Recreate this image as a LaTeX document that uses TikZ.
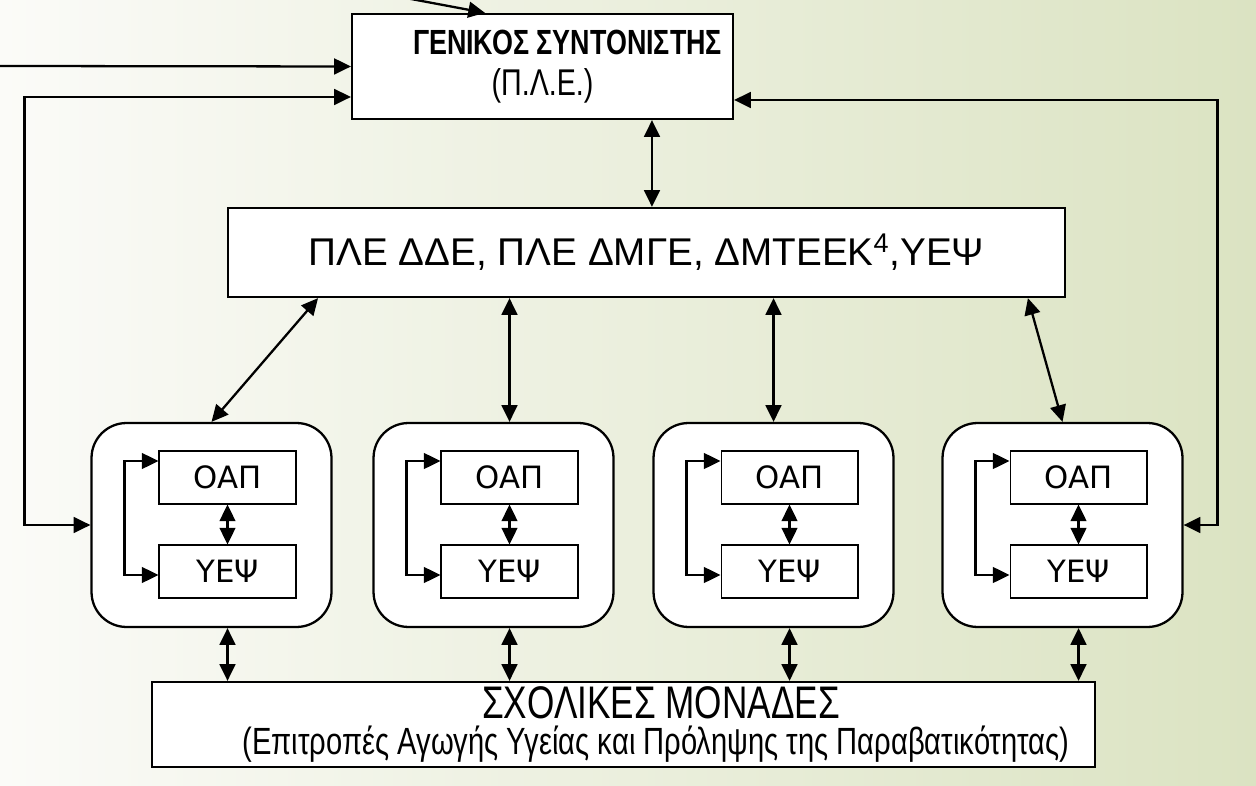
\documentclass[tikz,border=0pt]{standalone}
\usepackage{graphicx}
\usepackage{fontspec}
\setmainfont{Liberation Sans}
\newfontfamily\dejavu{DejaVu Sans}
\usetikzlibrary{arrows.meta,positioning}

\definecolor{bgleft}{RGB}{251,251,248}
\definecolor{bgright}{RGB}{219,227,194}
\newcommand{\tall}[1]{\scalebox{1}[1.3]{#1}}

\begin{document}
\begin{tikzpicture}[x=0.02cm,y=-0.02cm,
  >={Triangle[length=9.5pt,width=9pt]},
  box/.style={draw,line width=1.3pt,fill=white,align=center,inner sep=0pt},
  team/.style={draw,line width=1.3pt,fill=white,rounded corners=0.7cm,minimum width=4.8cm,minimum height=4.08cm},
  unit/.style={draw,line width=0.6pt,fill=white,minimum width=2.74cm,minimum height=1.06cm,font=\dejavu\fontsize{17.5}{20}\selectfont},
  link/.style={line width=1.3pt,<->}]

\useasboundingbox (0,0) rectangle (1256,786);
\shade[left color=bgleft,right color=bgright] (0,0) rectangle (1256,786);% background

% boxes
\node[box,minimum width=7.62cm,minimum height=2.1cm] (gen) at (542.5,66.5)
  {\hspace*{1cm}\tall{\bfseries\fontsize{15.3}{18}\selectfont ΓΕΝΙΚΟΣ ΣΥΝΤΟΝΙΣΤΗΣ}\\[7pt]\tall{\fontsize{16.3}{18}\selectfont (Π.Λ.Ε.)}};
\node[box,minimum width=16.74cm,minimum height=1.78cm] (ple) at (646.5,252.5)
  {\fontsize{22}{24}\selectfont ΠΛΕ ΔΔΕ, ΠΛΕ ΔΜΓΕ, ΔΜΤΕΕΚ\textsuperscript{4},ΥΕΨ};
\node[box,minimum width=18.86cm,minimum height=1.7cm] (sch) at (623.5,724.5)
  {\hspace*{1.5cm}\tall{\fontsize{20}{22}\selectfont ΣΧΟΛΙΚΕΣ ΜΟΝΑΔΕΣ}\\[3pt]
   \hspace*{1.3cm}\tall{\fontsize{16.6}{18}\selectfont (Επιτροπές Αγωγής Υγείας και Πρόληψης της Παραβατικότητας)}};

% the four teams
\foreach \i/\cx in {1/211.5,2/493.5,3/773.5,4/1062.5}{
  \node[team] (t\i) at (\cx,525) {};
  \node[unit] (oap\i) at (\cx+16,477.5) {ΟΑΠ};
  \node[unit] (yep\i) at (\cx+16,571.5) {ΥΕΨ};
  \draw[link,line width=1.2pt] (oap\i.south) -- (yep\i.north);
  \draw[link,line width=1.2pt] ([yshift=0.33cm]oap\i.west) -- ++(-0.68cm,0) |- ([yshift=-0.07cm]yep\i.west);
  \draw[link] (oap\i.south |- t\i.south) -- (oap\i.south |- sch.north);% down to schools
}

% links between levels
\draw[link] ([xshift=2.19cm]gen.south) -- ([xshift=2.19cm]gen.south |- ple.north);
\draw[link] ([xshift=-6.57cm]ple.south) -- (t1.north);
\draw[link] (oap2.north |- ple.south) -- (oap2.north |- t2.north);
\draw[link] (t3.north |- ple.south) -- (t3.north);
\draw[link] ([xshift=7.63cm]ple.south) -- (t4.north);

% feedback lines
\coordinate (lin) at (0,66);
\coordinate (topin) at (395,-4);
\draw[->,line width=1.3pt] (lin) -- (gen.west);
\draw[->,line width=1.3pt] (topin) -- ([xshift=-1.15cm]gen.north);
\draw[link] ([yshift=-0.61cm]gen.west) -| ([xshift=-1.32cm]t1.west) -- (t1.west);
\draw[link] ([yshift=-0.67cm]gen.east) -| ([xshift=0.68cm]t4.east) -- (t4.east);

\end{tikzpicture}
\end{document}
